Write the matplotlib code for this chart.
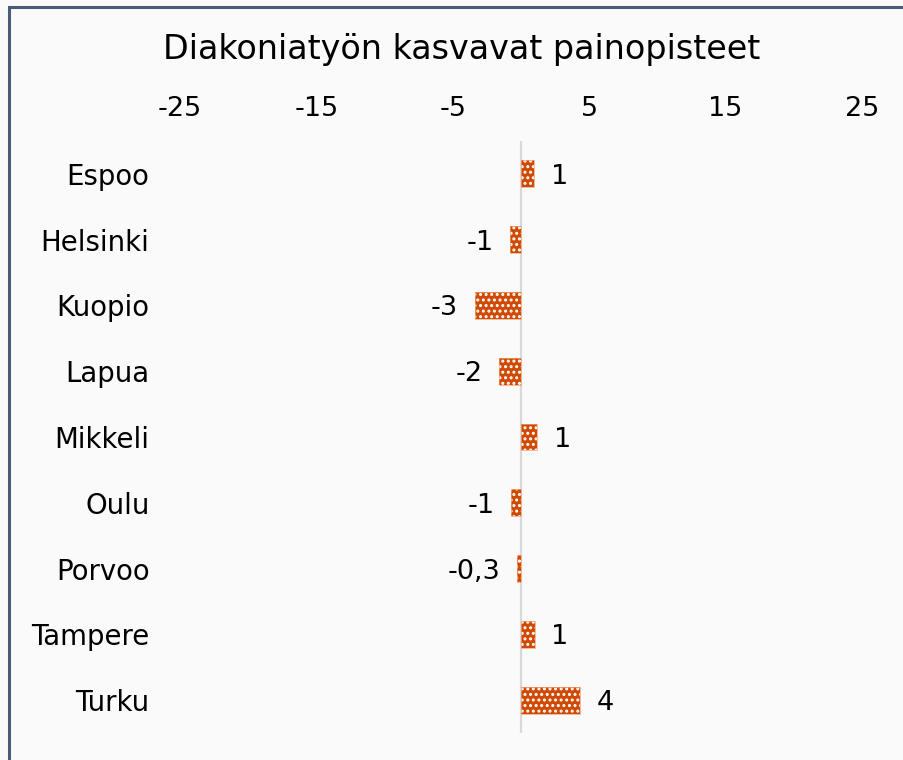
import numpy as np
import matplotlib.pyplot as plt
from matplotlib.patches import Rectangle

plt.rcParams['font.family'] = ['DejaVu Sans']
plt.rcParams['hatch.linewidth'] = 1.4

cities = ["Espoo", "Helsinki", "Kuopio", "Lapua", "Mikkeli", "Oulu", "Porvoo", "Tampere", "Turku"]
values = [0.95, -0.8, -3.4, -1.6, 1.2, -0.7, -0.3, 1.0, 4.3]
value_labels = ["1", "-1", "-3", "-2", "1", "-1", "-0,3", "1", "4"]
xticks = [-25, -15, -5, 5, 15, 25]

bg = '#fafafa'
bar_col = '#d04a04'

fig = plt.figure(figsize=(9.04, 7.6), dpi=100, facecolor=bg)
ax = fig.add_axes([180/904, 1 - 733/760, (862 - 180)/904, (733 - 141)/760])
ax.set_facecolor(bg)

y = np.arange(len(cities))
ax.axvline(0, color='#d9d9d9', lw=1.6, zorder=1)
ax.barh(y, values, height=0.41, color=bar_col, edgecolor='white', lw=0, hatch='...', zorder=2)
ax.barh(y, values, height=0.41, fill=False, edgecolor='#f0a070', lw=0.5, zorder=3)

for yi, v, lab in zip(y, values, value_labels):
    if v >= 0:
        ax.annotate(lab, (v, yi), xytext=(12, 0), textcoords='offset points',
                    ha='left', va='center_baseline', fontsize=19.5)
    else:
        ax.annotate(lab, (v, yi), xytext=(-12, 0), textcoords='offset points',
                    ha='right', va='center_baseline', fontsize=19.5)

ax.set_xlim(-25, 25)
ax.set_ylim(len(cities) - 0.5, -0.5)
ax.set_xticks(xticks)
ax.set_xticklabels([str(t) for t in xticks])
ax.xaxis.tick_top()
ax.set_yticks(y)
ax.set_yticklabels(cities)
ax.tick_params(axis='x', length=0, pad=14, labelsize=19.5)
ax.tick_params(axis='y', length=0, pad=22, labelsize=19.8)
for s in ax.spines.values():
    s.set_visible(False)

fig.text(462/904, 1 - 50/760, "Diakoniatyön kasvavat painopisteet", ha='center', va='center', fontsize=24)

# chart frame (right and bottom edges fall outside the picture)
fig.patches.append(Rectangle((9/904, -0.1), 1.2, 1.1 - 7/760, transform=fig.transFigure,
                             fill=False, edgecolor='#4b5b78', lw=2.2))

fig.savefig('out.png', dpi=100, facecolor=bg)
